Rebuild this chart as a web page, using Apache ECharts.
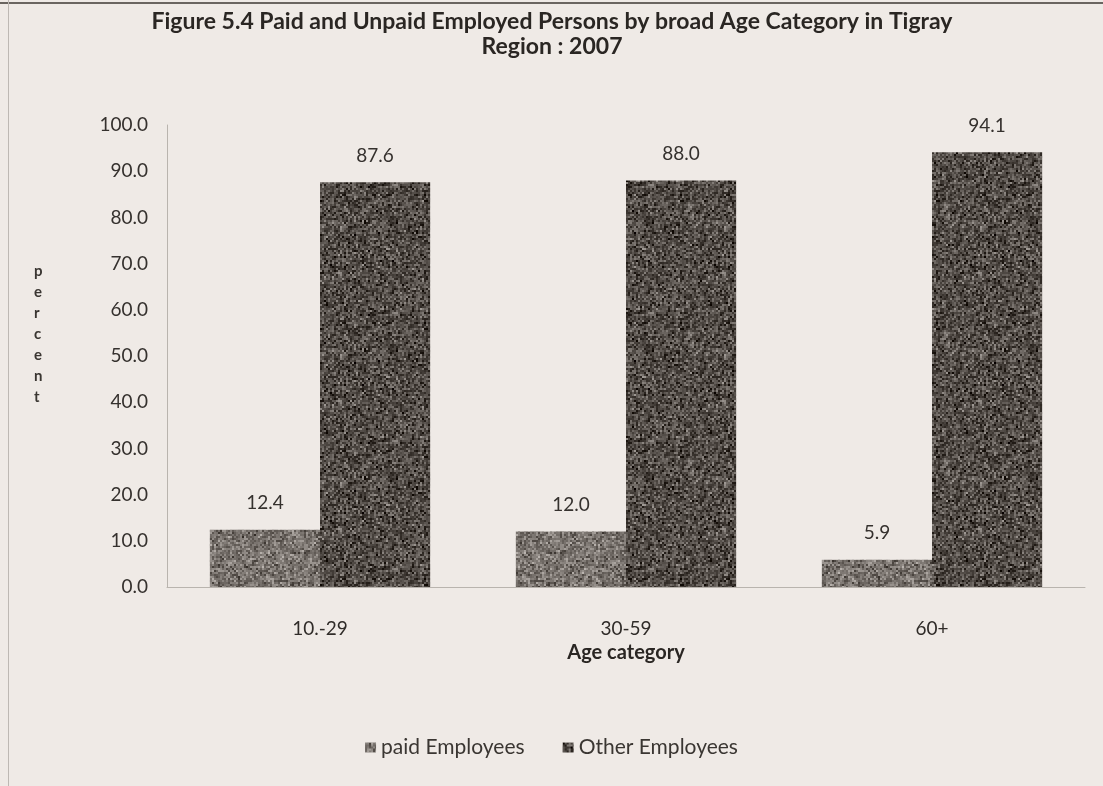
<!DOCTYPE html>
<html>
<head>
<meta charset="utf-8">
<title>Paid and Unpaid Employed Persons by broad Age Category in Tigray Region: 2007</title>
<script src="https://cdn.jsdelivr.net/npm/echarts@6/dist/echarts.min.js"></script>
<style>
  html, body { margin: 0; padding: 0; background: #efeae6; }
  #chart { width: 1103px; height: 786px; }
</style>
</head>
<body>
<div id="chart"></div>
<script>
// Age groups on the x axis
const categories = ['10.-29', '30-59', '60+'];
// Percent of employed persons in each age group
const paidEmployees = [12.4, 12.0, 5.9];
const otherEmployees = [87.6, 88.0, 94.1];
// Value axis range and step
const yMin = 0;
const yMax = 100;
const yStep = 10;

// Grainy print-style fill: a tile of speckled grey in 2px grains,
// softened a little, then repeated over the bar
function grainTile(base, spread, seed) {
  const grain = 2;
  const cells = 64;
  const size = cells * grain;
  const raw = document.createElement('canvas');
  raw.width = size; raw.height = size;
  const rctx = raw.getContext('2d');
  let s = seed;
  const rnd = () => { s = (s * 1664525 + 1013904223) % 4294967296; return s / 4294967296; };
  for (let y = 0; y < cells; y++) {
    for (let x = 0; x < cells; x++) {
      const n = (rnd() + rnd() + rnd() - 1.5) * spread;
      const v = Math.round(Math.max(0, Math.min(255, base + n)));
      rctx.fillStyle = 'rgb(' + (v + 6) + ',' + v + ',' + (v - 5) + ')';
      rctx.fillRect(x * grain, y * grain, grain, grain);
    }
  }
  const out = document.createElement('canvas');
  out.width = size; out.height = size;
  const octx = out.getContext('2d');
  octx.fillStyle = 'rgb(' + (base + 6) + ',' + base + ',' + (base - 5) + ')';
  octx.fillRect(0, 0, size, size);
  octx.filter = 'blur(0.6px)';
  octx.drawImage(raw, 0, 0);
  return out;
}

const paidFill = { image: grainTile(114, 52, 7), repeat: 'repeat' };
const otherFill = { image: grainTile(76, 60, 31), repeat: 'repeat' };

const font = 'Lato, "Noto Sans", sans-serif';
const chart = echarts.init(document.getElementById('chart'), null, { renderer: 'canvas' });

chart.setOption({
  backgroundColor: '#efeae6',
  animation: false,
  textStyle: { fontFamily: font },
  title: {
    text: 'Figure 5.4 Paid and Unpaid Employed Persons by broad Age Category in Tigray\nRegion : 2007',
    left: 547,
    top: 4,
    textAlign: 'center',
    textStyle: {
      fontFamily: font,
      fontSize: 23,
      fontWeight: 'bold',
      color: '#2a2623',
      lineHeight: 25
    }
  },
  legend: {
    top: 732,
    left: 'center',
    itemWidth: 11,
    itemHeight: 10,
    itemGap: 38,
    icon: 'rect',
    textStyle: { fontFamily: font, fontSize: 21, color: '#3a3632' },
    data: ['paid Employees', 'Other Employees']
  },
  grid: { left: 167, right: 18, top: 125, bottom: 199, containLabel: false },
  xAxis: {
    type: 'category',
    data: categories,
    name: 'Age category',
    nameLocation: 'middle',
    nameGap: 56,
    nameTextStyle: { fontFamily: font, fontSize: 20, fontWeight: 'bold', color: '#2a2623' },
    axisLine: { lineStyle: { color: '#b9b4ae', width: 1 } },
    axisTick: { show: false },
    axisLabel: { margin: 32, fontSize: 19, color: '#302c29', fontFamily: font },
    splitLine: { show: false }
  },
  yAxis: {
    type: 'value',
    min: yMin,
    max: yMax,
    interval: yStep,
    axisLine: { show: true, lineStyle: { color: '#b9b4ae', width: 1 } },
    axisTick: { show: false },
    axisLabel: {
      margin: 19,
      fontSize: 19,
      color: '#35312e',
      fontFamily: font,
      formatter: v => v.toFixed(1)
    },
    splitLine: { show: false }
  },
  series: [
    {
      name: 'paid Employees',
      type: 'bar',
      data: paidEmployees,
      barGap: '0%',
      barCategoryGap: '28%',
      itemStyle: { color: paidFill },
      label: {
        show: true,
        position: 'top',
        distance: 17,
        fontSize: 19,
        color: '#35312e',
        fontFamily: font,
        formatter: p => p.value.toFixed(1)
      }
    },
    {
      name: 'Other Employees',
      type: 'bar',
      data: otherEmployees,
      barGap: '0%',
      barCategoryGap: '28%',
      itemStyle: { color: otherFill },
      label: {
        show: true,
        position: 'top',
        distance: 17,
        fontSize: 19,
        color: '#35312e',
        fontFamily: font,
        formatter: p => p.value.toFixed(1)
      }
    }
  ],
  graphic: [
    // page rule along the top and the table border on the left
    { type: 'rect', shape: { x: 0, y: 2, width: 1103, height: 2 }, style: { fill: '#6a6560' }, silent: true },
    { type: 'rect', shape: { x: 8, y: 0, width: 1, height: 786 }, style: { fill: '#bdb8b3' }, silent: true },
    // vertical axis title, one letter per line
    {
      type: 'text',
      left: 34,
      top: 261,
      style: {
        text: 'p\ne\nr\nc\ne\nn\nt',
        font: 'bold 15px ' + font,
        fill: '#3a3632',
        lineHeight: 21,
        align: 'center'
      }
    }
  ]
});
</script>
</body>
</html>
